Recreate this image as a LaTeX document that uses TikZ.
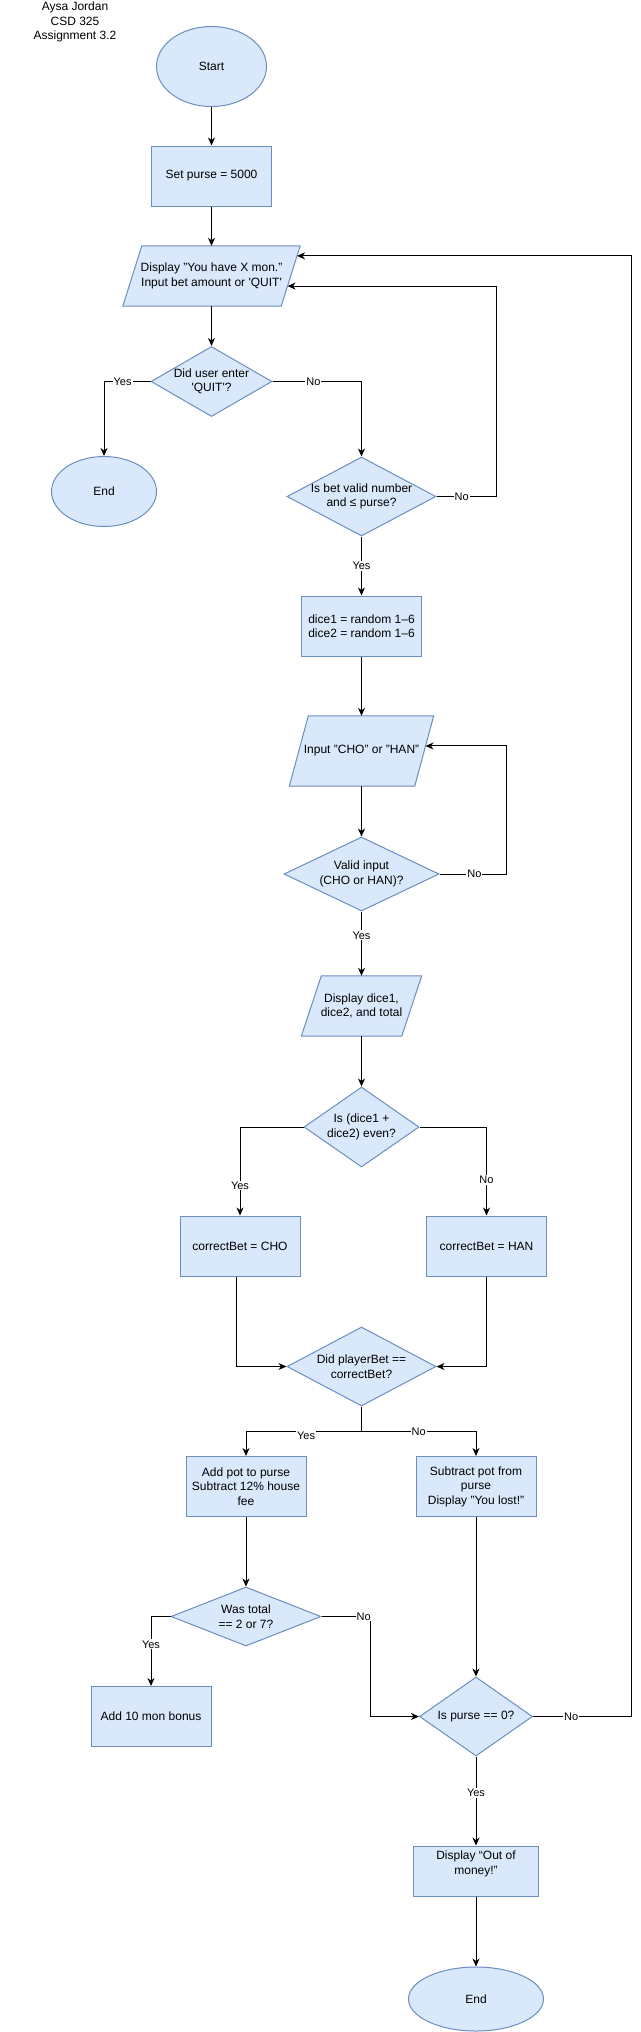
\documentclass[tikz,border=0pt]{standalone}
\usepackage{fontspec}
\setmainfont{Liberation Sans}
\usetikzlibrary{shapes.geometric,arrows.meta,calc,backgrounds}
\definecolor{bf}{HTML}{DAE8FC}
\definecolor{bd}{HTML}{6C8EBF}
\newcommand{\fsz}{\fontsize{12pt}{14.5pt}\selectfont}
\newcommand{\lsz}{\fontsize{11pt}{13pt}\selectfont}
\begin{document}
\begin{tikzpicture}[x=1pt,y=-1pt,
  base/.style={draw=bd, fill=bf, line width=1pt, font=\fsz, align=center, inner sep=2pt},
  proc/.style={base, rectangle, minimum width=120pt, minimum height=60pt},
  term/.style={base, ellipse},
  dec/.style={base, diamond, inner sep=0pt},
  dtext/.style={font=\fsz, align=center, inner sep=0pt},
  io/.style={rectangle, inner sep=0pt, font=\fsz, align=center},
  iofill/.style={draw=bd, fill=bf, line width=1pt},
  arr/.style={draw=black, line width=1pt, -{Stealth[length=8pt,width=7pt,inset=2.5pt]}},
  lbl/.style={font=\lsz, fill=white, inner sep=1pt}]
\begin{pgfonlayer}{background}
\fill[white] (0,0) rectangle (640,2032);
\end{pgfonlayer}
\useasboundingbox (0,0) rectangle (640,2032);

\node[font=\fsz, align=center, inner sep=0pt, anchor=north] (title) at (75,2) {Aysa Jordan\\CSD 325\\Assignment 3.2};

\node[term, minimum width=110pt, minimum height=80pt] (start) at (211.5,66.5) {Start};
\node[proc] (purse) at (211.5,176) {Set purse = 5000};
\node[io, minimum width=177pt, minimum height=60pt] (disp) at (211.5,276) {Display "You have X mon."\\Input bet amount or \textquotesingle QUIT\textquotesingle};
\node[dec, minimum width=121pt, minimum height=70pt, label={[dtext]center:{Did user enter\\\textquotesingle QUIT\textquotesingle?}}] (quit) at (211.5,381.5) {};
\node[term, minimum width=105pt, minimum height=70pt] (end1) at (104,491.5) {End};
\node[dec, minimum width=149pt, minimum height=79pt, label={[dtext]center:{Is bet valid number\\and ≤ purse?}}] (valid) at (361.5,496.5) {};
\node[proc] (dice) at (361.5,626) {dice1 = random 1–6\\dice2 = random 1–6};
\node[io, minimum width=144pt, minimum height=70pt] (inp) at (361.5,751) {Input "CHO" or "HAN"};
\node[dec, minimum width=155pt, minimum height=74pt, label={[dtext]center:{Valid input\\(CHO or HAN)?}}] (vin) at (361.5,874) {};
\node[io, minimum width=120pt, minimum height=60pt] (dd) at (361.5,1006) {Display dice1,\\dice2, and total};
\node[dec, minimum width=115pt, minimum height=80pt, label={[dtext]center:{Is (dice1 +\\dice2) even?}}] (even) at (361.5,1127) {};
\node[proc] (cho) at (240,1246) {correctBet = CHO};
\node[proc] (han) at (486.5,1246) {correctBet = HAN};
\node[dec, minimum width=149pt, minimum height=79pt, label={[dtext]center:{Did playerBet ==\\correctBet?}}] (pb) at (361.5,1366.5) {};
\node[proc] (add) at (246,1486.5) {Add pot to purse\\Subtract 12\% house\\fee};
\node[proc] (sub) at (476,1486.5) {Subtract pot from\\purse\\Display "You lost!"};
\node[dec, minimum width=150pt, minimum height=59pt, label={[dtext]center:{Was total\\== 2 or 7?}}] (tot) at (246,1616.5) {};
\node[proc] (bonus) at (151,1716.5) {Add 10 mon bonus};
\node[dec, minimum width=113pt, minimum height=79pt, label={[dtext]center:{Is purse == 0?}}] (zero) at (476,1716.5) {};
\node[proc, minimum width=125pt, minimum height=50pt, label={[dtext,yshift=7pt]center:{Display “Out of\\money!”}}] (out) at (476,1871) {};
\node[term, minimum width=135pt, minimum height=64pt] (end2) at (476,1999) {End};

\begin{pgfonlayer}{background}
\path[iofill] ([xshift=19pt]disp.north west) -- (disp.north east) -- ([xshift=-19pt]disp.south east) -- (disp.south west) -- cycle;
\path[iofill] ([xshift=19pt]inp.north west) -- (inp.north east) -- ([xshift=-19pt]inp.south east) -- (inp.south west) -- cycle;
\path[iofill] ([xshift=20pt]dd.north west) -- (dd.north east) -- ([xshift=-20pt]dd.south east) -- (dd.south west) -- cycle;
\end{pgfonlayer}

\coordinate (dispin1) at ($(disp.north east)!1/6!([xshift=-19pt]disp.south east)$);
\coordinate (dispin2) at ($(disp.north east)!4/6!([xshift=-19pt]disp.south east)$);
\coordinate (inpin) at ($(inp.north east)!3/7!([xshift=-19pt]inp.south east)$);
\coordinate (rx) at (631,0);

\draw[arr] (start.south) -- (purse.north);
\draw[arr] (purse.south) -- (disp.north);
\draw[arr] (disp.south) -- (quit.north);
\draw[arr] (quit.west) -| node[lbl,pos=0.3]{Yes} (end1.north);
\draw[arr] (quit.east) -| node[lbl,pos=0.23]{No} (valid.north);
\draw[arr] (valid.east) -- node[lbl,pos=0.42]{No} ++(60,0) |- (dispin2);
\draw[arr] (valid.south) -- node[lbl]{Yes} (dice.north);
\draw[arr] (dice.south) -- (inp.north);
\draw[arr] (inp.south) -- (vin.north);
\draw[arr] (vin.east) -- node[lbl,pos=0.52]{No} ++(67,0) |- (inpin);
\draw[arr] (vin.south) -- node[lbl,pos=0.37]{Yes} (dd.north);
\draw[arr] (dd.south) -- (even.north);
\draw[arr] (even.west) -| node[lbl,pos=0.83]{Yes} (cho.north);
\draw[arr] (even.east) -| node[lbl,pos=0.8]{No} (han.north);
\draw[arr] ([xshift=-4pt]cho.south) |- (pb.west);
\draw[arr] (han.south) |- (pb.east);
\draw[arr] (pb.south) -- ++(0,25) -| node[lbl,pos=0.24,yshift=-4pt]{Yes} (add.north);
\draw[arr] (pb.south) -- ++(0,25) -| node[lbl,pos=0.25]{No} (sub.north);
\draw[arr] (add.south) -- (tot.north);
\draw[arr] (tot.west) -| node[lbl,pos=0.7]{Yes} (bonus.north);
\draw[arr] (tot.east) -- node[lbl,pos=0.86]{No} ++(49,0) |- (zero.west);
\draw[arr] (sub.south) -- (zero.north);
\draw[arr] (zero.east) -- node[lbl,pos=0.39]{No} (zero.east -| rx) |- (dispin1);
\draw[arr] (zero.south) -- node[lbl,pos=0.41]{Yes} (out.north);
\draw[arr] (out.south) -- (end2.north);
\end{tikzpicture}
\end{document}
